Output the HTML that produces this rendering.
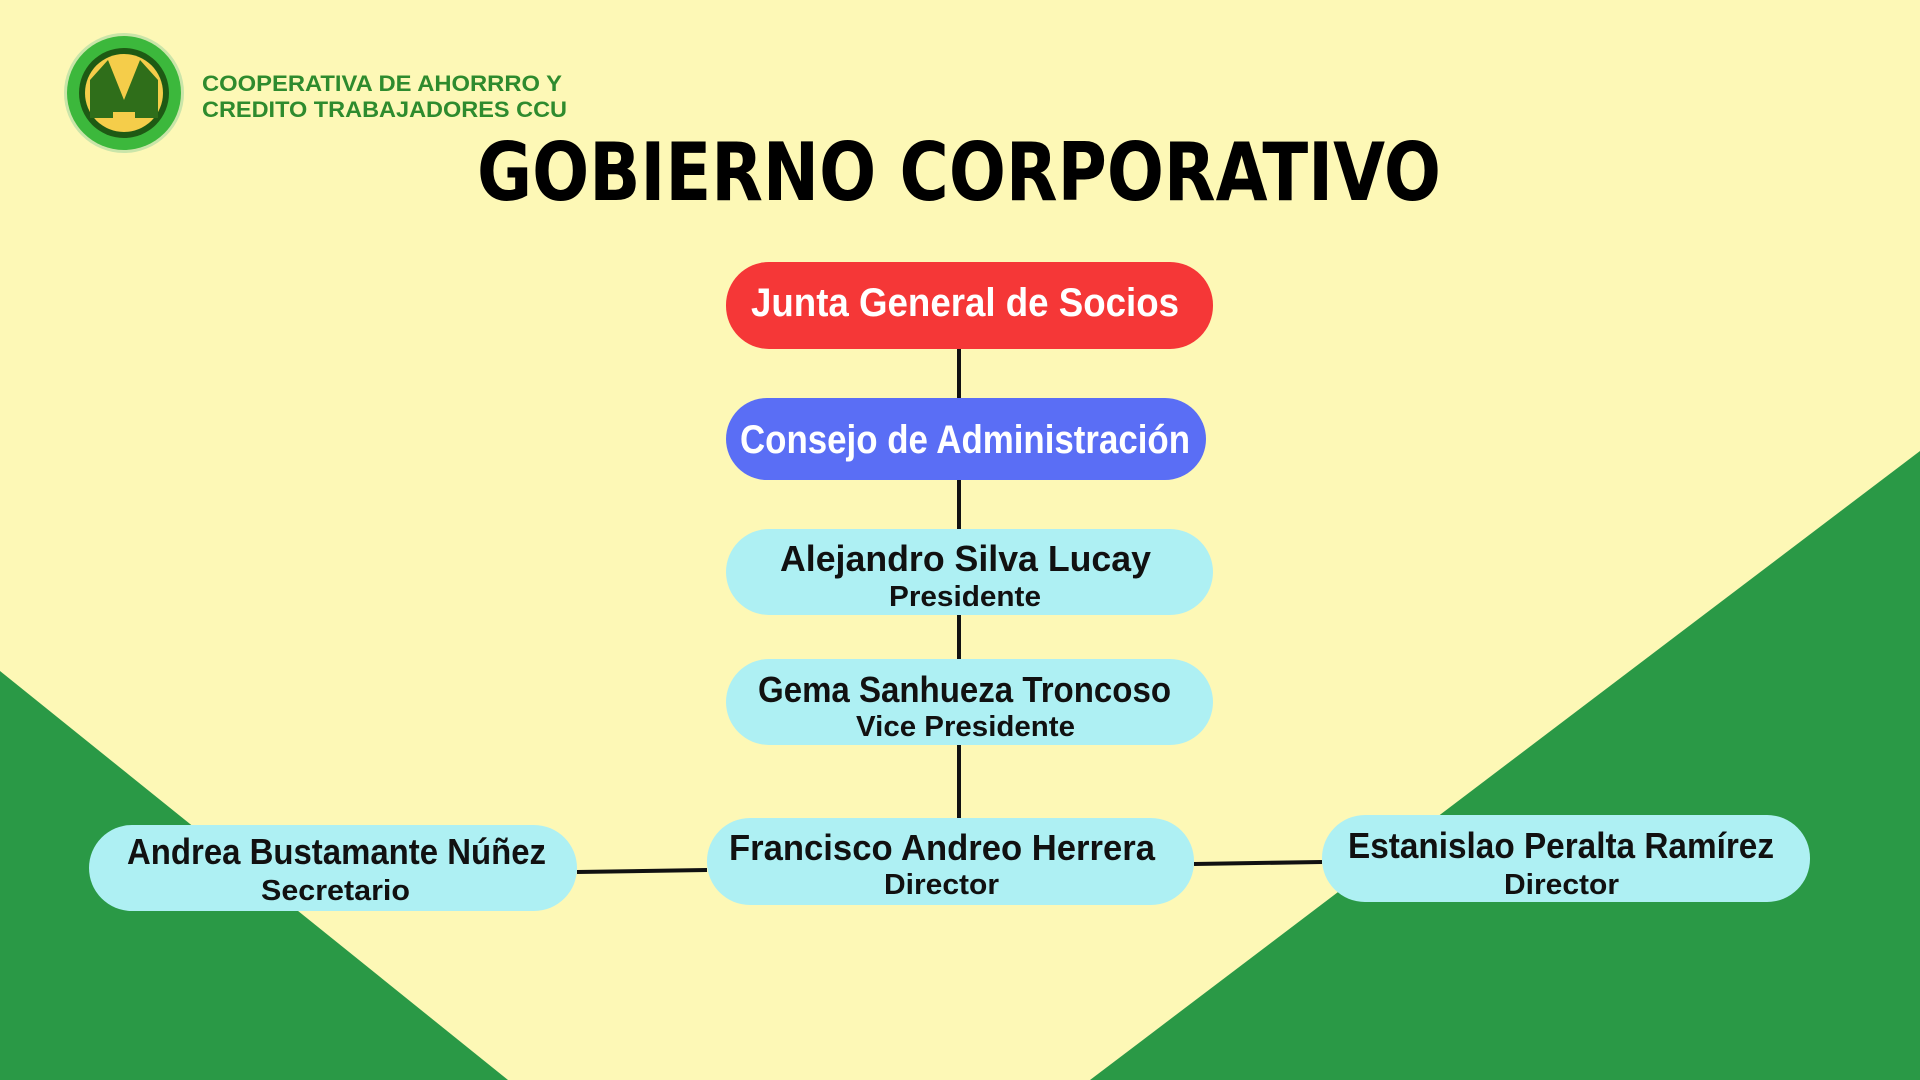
<!DOCTYPE html>
<html><head><meta charset="utf-8"><style>html,body{margin:0;padding:0;background:#fdf8b6}svg{display:block}</style></head>
<body>
<svg width="1920" height="1080" viewBox="0 0 1920 1080" xmlns="http://www.w3.org/2000/svg" font-family="'Liberation Sans Narrow','Liberation Sans',sans-serif" font-weight="bold">
<rect width="1920" height="1080" fill="#fdf8b6"/>
<polygon points="0,671 0,1080 508,1080" fill="#2a9946"/>
<polygon points="1920,451 1920,1080 1090,1080" fill="#2a9946"/>
<!-- logo -->
<circle cx="124" cy="93" r="60" fill="#a8d8a0" opacity="0.6"/>
<circle cx="124" cy="93" r="57" fill="#3cb83c"/>
<circle cx="124" cy="93" r="45" fill="#1e5a14"/>
<circle cx="124" cy="93" r="39" fill="#f5cd4a"/>
<polygon points="90,80 108,60 124,100 140,60 158,80 158,118 90,118" fill="#2f6e1a"/>
<rect x="113" y="112" width="22" height="18" fill="#f5cd4a"/>
<text x="202" y="91" font-family="'Liberation Sans',sans-serif" font-size="22" fill="#2e8b2e" textLength="360" lengthAdjust="spacingAndGlyphs">COOPERATIVA DE AHORRRO Y</text>
<text x="202" y="117" font-family="'Liberation Sans',sans-serif" font-size="22" fill="#2e8b2e" textLength="365" lengthAdjust="spacingAndGlyphs">CREDITO TRABAJADORES CCU</text>
<text x="477" y="200" font-family="'DejaVu Sans','Liberation Sans',sans-serif" font-size="80" fill="#000" textLength="964" lengthAdjust="spacingAndGlyphs">GOBIERNO CORPORATIVO</text>
<!-- connectors -->
<g stroke="#111" stroke-width="4">
<line x1="959" y1="349" x2="959" y2="398"/>
<line x1="959" y1="480" x2="959" y2="529"/>
<line x1="959" y1="615" x2="959" y2="659"/>
<line x1="959" y1="745" x2="959" y2="818"/>
<line x1="577" y1="872" x2="707" y2="870"/>
<line x1="1194" y1="864" x2="1322" y2="862"/>
</g>
<!-- nodes -->
<rect x="726" y="262" width="487" height="87" rx="43" fill="#f53737"/>
<rect x="726" y="398" width="480" height="82" rx="41" fill="#5a6ef5"/>
<rect x="726" y="529" width="487" height="86" rx="43" fill="#aef0f3"/>
<rect x="726" y="659" width="487" height="86" rx="43" fill="#aef0f3"/>
<rect x="707" y="818" width="487" height="87" rx="43" fill="#aef0f3"/>
<rect x="89" y="825" width="488" height="86" rx="43" fill="#aef0f3"/>
<rect x="1322" y="815" width="488" height="87" rx="43" fill="#aef0f3"/>
<g fill="#fff" font-size="40">
<text x="751" y="316" textLength="428" lengthAdjust="spacingAndGlyphs">Junta General de Socios</text>
<text x="740" y="453" textLength="450" lengthAdjust="spacingAndGlyphs">Consejo de Administración</text>
</g>
<g fill="#111" font-size="36">
<text x="780" y="571" textLength="371" lengthAdjust="spacingAndGlyphs">Alejandro Silva Lucay</text>
<text x="758" y="702" textLength="413" lengthAdjust="spacingAndGlyphs">Gema Sanhueza Troncoso</text>
<text x="729" y="860" textLength="426" lengthAdjust="spacingAndGlyphs">Francisco Andreo Herrera</text>
<text x="127" y="864" textLength="419" lengthAdjust="spacingAndGlyphs">Andrea Bustamante Núñez</text>
<text x="1348" y="858" textLength="426" lengthAdjust="spacingAndGlyphs">Estanislao Peralta Ramírez</text>
</g>
<g fill="#111" font-size="29">
<text x="889" y="606" textLength="152" lengthAdjust="spacingAndGlyphs">Presidente</text>
<text x="856" y="736" textLength="219" lengthAdjust="spacingAndGlyphs">Vice Presidente</text>
<text x="884" y="894" textLength="115" lengthAdjust="spacingAndGlyphs">Director</text>
<text x="261" y="900" textLength="149" lengthAdjust="spacingAndGlyphs">Secretario</text>
<text x="1504" y="894" textLength="115" lengthAdjust="spacingAndGlyphs">Director</text>
</g>
</svg>
</body></html>
